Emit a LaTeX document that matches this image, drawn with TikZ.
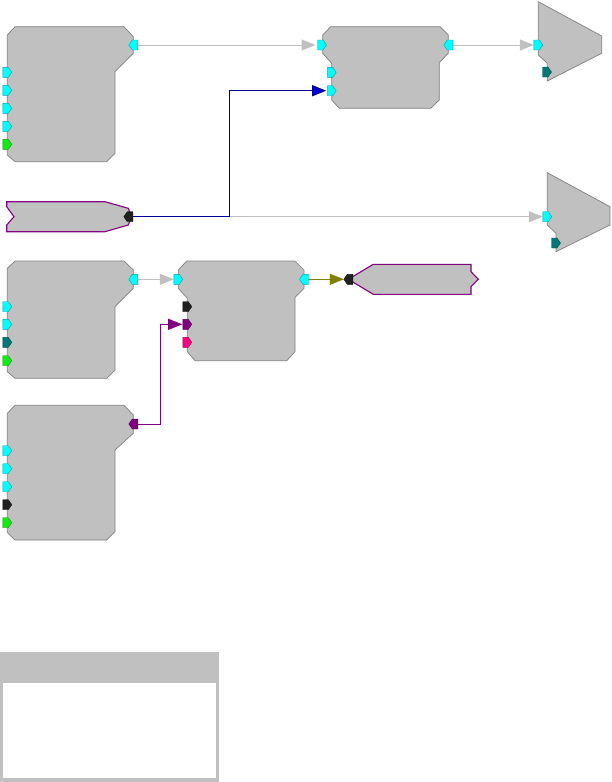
\documentclass[tikz,border=0pt]{standalone}
\usetikzlibrary{arrows.meta}
\definecolor{blkfill}{RGB}{192,192,192}
\definecolor{blkdraw}{RGB}{128,128,128}
\definecolor{pcyan}{RGB}{0,255,255}
\definecolor{pgreen}{RGB}{20,235,20}
\definecolor{pteal}{RGB}{0,120,120}
\definecolor{ppink}{RGB}{255,0,128}
\definecolor{ppurple}{RGB}{128,0,128}
\definecolor{pblack}{RGB}{32,32,32}
\definecolor{lgray}{RGB}{192,192,192}
\definecolor{lblue}{RGB}{0,0,150}
\definecolor{ablue}{RGB}{0,0,215}
\definecolor{lolive}{RGB}{128,128,0}
\tikzset{
  blk/.style={fill=blkfill, draw=blkdraw, line width=0.7pt},
  io/.style={fill=blkfill, draw=ppurple, line width=1.1pt},
  conn/.style={line width=1pt, shorten >=4.5pt},
  garr/.style={conn, draw=lgray, -{Triangle[length=14pt,width=11pt,fill=lgray]}},
  barr/.style={conn, draw=lblue, -{Triangle[length=14pt,width=11pt,fill=ablue]}},
  parr/.style={conn, draw=ppurple, -{Triangle[length=14pt,width=11pt,fill=ppurple]}},
  oarr/.style={conn, draw=lolive, -{Triangle[length=14pt,width=11pt,fill=lolive]}},
}
\newcommand\portR[3]{\coordinate (#1) at (#2);
  \filldraw[fill=#3, draw=#3!65!black, line width=0.4pt, shift={(#2)}]
    (-4.5,-5) -- (1,-5) -- (4.5,0) -- (1,5) -- (-4.5,5) -- cycle;}
\newcommand\portL[3]{\coordinate (#1) at (#2);
  \filldraw[fill=#3, draw=#3!65!black, line width=0.4pt, shift={(#2)}]
    (-4.5,0) -- (-1,-5) -- (4.5,-5) -- (4.5,5) -- (-1,5) -- cycle;}
\begin{document}
\begin{tikzpicture}[x=1pt,y=-1pt]
\useasboundingbox (0,0) rectangle (611,782);
% port coordinates (for connectors)
\coordinate (b1o) at (133.3,45);
\coordinate (b2i1) at (320,45);
\coordinate (b2i3) at (330.7,90.7);
\coordinate (b2o) at (449,45);
\coordinate (sp1i) at (538.3,45);
\coordinate (srco) at (128.3,216.7);
\coordinate (sp2i) at (547.3,216.7);
\coordinate (b3o) at (133.3,279.3);
\coordinate (b4i1) at (178.3,279.3);
\coordinate (b4i3) at (186.7,324.3);
\coordinate (b4o) at (304,279.3);
\coordinate (snki) at (348.3,279.3);
\coordinate (b5o) at (133.3,424);
\coordinate (jb) at (229.5,90.7);
\coordinate (jp) at (160.7,324.3);

% connectors
\draw[garr] (b1o) -- (b2i1);
\draw[garr] (b2o) -- (sp1i);
\draw[garr] (srco) -- (sp2i);
\draw[barr] (srco) -| (jb) -- (b2i3);
\draw[garr] (b3o) -- (b4i1);
\draw[oarr] (b4o) -- (snki);
\draw[parr] (b5o) -| (jp) -- (b4i3);

% block 1
\draw[blk] (7.3,35) -- (15,26.7) -- (124,26.7) -- (133.3,36.7) -- (133.3,53.3) -- (115,71.7) -- (115,153.3) -- (106.7,161.7) -- (15,161.7) -- (7.3,155) -- cycle;
\portR{b1i1}{7.3,72.3}{pcyan}
\portR{b1i2}{7.3,90.3}{pcyan}
\portR{b1i3}{7.3,108.3}{pcyan}
\portR{b1i4}{7.3,126.3}{pcyan}
\portR{b1i5}{7.3,144.3}{pgreen}
\portL{b1op}{133.3,45}{pcyan}

% block 2
\draw[blk] (322.7,35) -- (330.7,26.7) -- (440,26.7) -- (448.3,35) -- (448.3,53.3) -- (439.3,62.7) -- (439.3,100) -- (430.7,108.3) -- (339.3,108.3) -- (331.7,100) -- (331.7,63.3) -- (322.7,53.3) -- cycle;
\portR{b2p1}{322,45}{pcyan}
\portR{b2p2}{331.7,72.3}{pcyan}
\portR{b2p3}{331.7,90.7}{pcyan}
\portL{b2op}{448.3,45}{pcyan}

% speaker 1
\draw[blk] (538.3,1.7) -- (601.7,36) -- (601.7,53.3) -- (547.3,81) -- (547.3,63.3) -- (538.3,55) -- cycle;
\portR{sp1p}{538.3,45}{pcyan}
\portR{sp1t}{547,72}{pteal}

% source
\draw[io] (6.7,201.7) -- (105,201.7) -- (128.3,208.3) -- (131.7,216.7) -- (128.3,225) -- (105,231.7) -- (6.7,231.7) -- (6.7,225) -- (14,216.7) -- (6.7,206.7) -- cycle;
\portL{srcp}{128.3,216.7}{pblack}

% speaker 2
\draw[blk] (547.3,172.7) -- (610,206.7) -- (610,225) -- (556,251.7) -- (556,233.3) -- (547.3,225) -- cycle;
\portR{sp2p}{547.3,216.7}{pcyan}
\portR{sp2t}{556,243}{pteal}

% block 3
\draw[blk] (7.3,268.3) -- (15,261) -- (124,261) -- (133.3,270) -- (133.3,288.3) -- (115,306.7) -- (115,370) -- (106.7,378.3) -- (15,378.3) -- (7.3,371.7) -- cycle;
\portR{b3i1}{7.3,306.7}{pcyan}
\portR{b3i2}{7.3,324.3}{pcyan}
\portR{b3i3}{7.3,342.3}{pteal}
\portR{b3i4}{7.3,360.7}{pgreen}
\portL{b3op}{133.3,279.3}{pcyan}

% block 4
\draw[blk] (178.3,270) -- (186.7,261) -- (295,261) -- (304,270) -- (304,288.3) -- (295,297.3) -- (295,351.7) -- (286.7,360.7) -- (195,360.7) -- (187.3,351.7) -- (187.3,298.3) -- (178.3,288.3) -- cycle;
\portR{b4p1}{178.3,279.3}{pcyan}
\portR{b4p2}{187.3,306.7}{pblack}
\portR{b4p3}{187.3,324.3}{ppurple}
\portR{b4p4}{187.3,342.3}{ppink}
\portL{b4op}{304,279.3}{pcyan}

% sink
\draw[io] (348.3,279.3) -- (373.3,264.3) -- (471,264.3) -- (471,271.7) -- (478.3,279.3) -- (471,286.7) -- (471,294.3) -- (373.3,294.3) -- cycle;
\portL{snkp}{348.3,279.3}{pblack}

% block 5
\draw[blk] (7.3,413.3) -- (15,405.3) -- (124,405.3) -- (133.3,415) -- (133.3,433.3) -- (115,450) -- (115,531.7) -- (106.7,540) -- (15,540) -- (7.3,532.3) -- cycle;
\portR{b5i1}{7.3,450.7}{pcyan}
\portR{b5i2}{7.3,468.7}{pcyan}
\portR{b5i3}{7.3,486.7}{pcyan}
\portR{b5i4}{7.3,504.7}{pblack}
\portR{b5i5}{7.3,522.7}{pgreen}
\portL{b5op}{133.3,424}{ppurple}

% legend box
\fill[blkfill] (0.3,652.3) rectangle (219,781.7);
\fill[white] (3.3,682.7) rectangle (216,778.3);
\end{tikzpicture}
\end{document}
